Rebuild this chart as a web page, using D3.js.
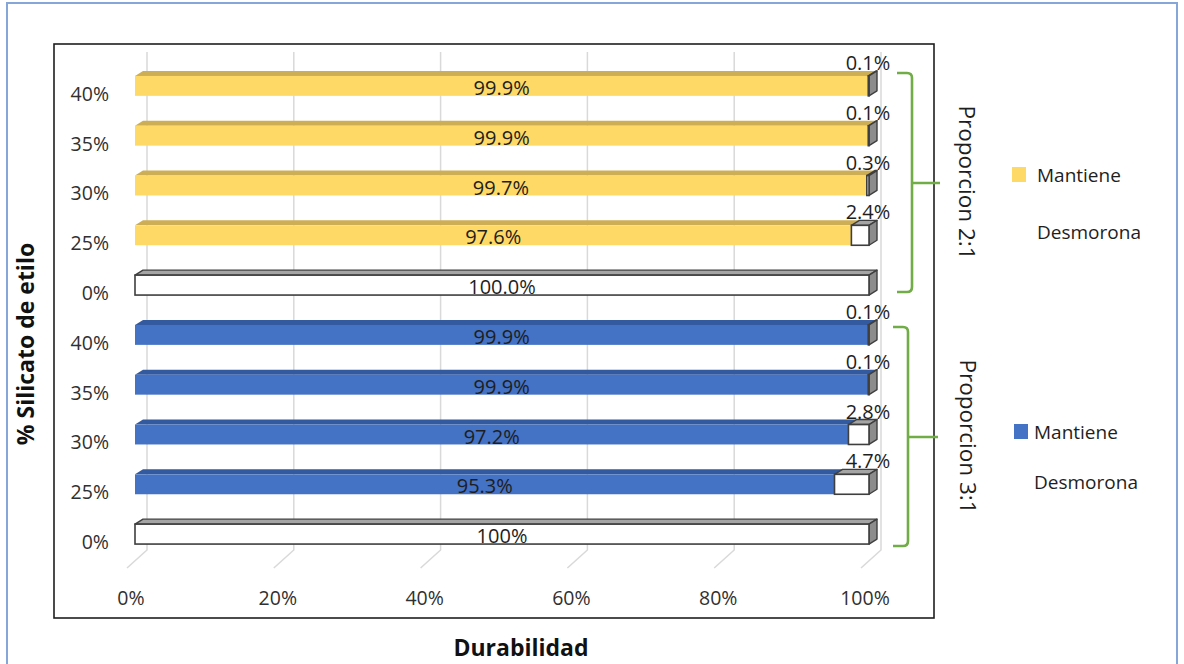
<!DOCTYPE html>
<html>
<head>
<meta charset="utf-8">
<script src="https://cdn.jsdelivr.net/npm/d3@7"></script>
<style>
  html, body { margin: 0; padding: 0; background: #fff; }
  svg { display: block; font-family: "Open Sans", "Liberation Sans", sans-serif; }
</style>
</head>
<body>
<svg id="chart" width="1184" height="664"></svg>
<script>
// Row labels, top to bottom (two groups of five)
const rowLabels = ["40%", "35%", "30%", "25%", "0%", "40%", "35%", "30%", "25%", "0%"];
const groupOf = ["2:1", "2:1", "2:1", "2:1", "2:1", "3:1", "3:1", "3:1", "3:1", "3:1"];

// Proporcion 2:1
const mantiene21 = [99.9, 99.9, 99.7, 97.6, 0];
const desmorona21 = [0.1, 0.1, 0.3, 2.4, 100];
// Proporcion 3:1
const mantiene31 = [99.9, 99.9, 97.2, 95.3, 0];
const desmorona31 = [0.1, 0.1, 2.8, 4.7, 100];

// The all-crumbled rows are labelled with different precision in each group
const fullRowLabels = ["100.0%", "100%"];

const xTicks = [0, 20, 40, 60, 80, 100];

const groups = [
  { name: "Proporcion 2:1", color: "#FFD966", top: "#CDAE55", mantiene: mantiene21, desmorona: desmorona21, full: fullRowLabels[0] },
  { name: "Proporcion 3:1", color: "#4472C4", top: "#33599F", mantiene: mantiene31, desmorona: desmorona31, full: fullRowLabels[1] }
];

const svg = d3.select("#chart");

// outer frame
svg.append("rect").attr("x", 7).attr("y", 3).attr("width", 1170).attr("height", 680)
  .attr("fill", "none").attr("stroke", "#86A6D8").attr("stroke-width", 2);
// inner chart frame
svg.append("rect").attr("x", 54).attr("y", 44).attr("width", 880).attr("height", 574)
  .attr("fill", "none").attr("stroke", "#1e1e1e").attr("stroke-width", 1.6);

const x = d3.scaleLinear().domain([0, 100]).range([135, 869]);
const rowIds = d3.range(rowLabels.length);
const y = d3.scaleBand().domain(rowIds).range([61, 559]).paddingInner(0.6).paddingOuter(0.3);

const DX = 8, DY = 5;          // bar depth offset
const BACK = 12, FLOOR_Y = 550, FLOOR_DX = -20, FLOOR_DY = 18;

// back wall gridlines + floor
const grid = svg.append("g");
xTicks.forEach(v => {
  const bx = x(v) + BACK;
  grid.append("path")
    .attr("d", `M${bx},52 V${FLOOR_Y} L${bx + FLOOR_DX},${FLOOR_Y + FLOOR_DY}`)
    .attr("fill", "none").attr("stroke", "#d9d9d9").attr("stroke-width", 1.5);
});

// x tick labels
svg.append("g").selectAll("text").data(xTicks).join("text")
  .attr("x", d => x(d) - 4).attr("y", 598).attr("dy", "0.35em")
  .attr("text-anchor", "middle").attr("font-size", 19.5).attr("fill", "#303030")
  .text(d => d + "%");

// y tick labels
svg.append("g").selectAll("text").data(rowIds).join("text")
  .attr("x", 109).attr("y", d => y(d) + y.bandwidth() / 2 + 8).attr("dy", "0.35em")
  .attr("text-anchor", "end").attr("font-size", 19.5).attr("fill", "#303030")
  .text(d => rowLabels[d]);

// 3D bar pieces
function box(g, x0, x1, yt, h, front, topFill, stroke, withCap, capFill) {
  if (x1 - x0 <= 0) return;
  g.append("path")
    .attr("d", `M${x0},${yt} L${x0 + DX},${yt - DY} L${x1 + DX},${yt - DY} L${x1},${yt} Z`)
    .attr("fill", topFill).attr("stroke", stroke || "none").attr("stroke-width", 1.4)
    .attr("stroke-linejoin", "round");
  if (withCap) {
    g.append("path")
      .attr("d", `M${x1},${yt} L${x1 + DX},${yt - DY} L${x1 + DX},${yt + h - DY} L${x1},${yt + h} Z`)
      .attr("fill", capFill).attr("stroke", stroke || "none").attr("stroke-width", 1.4)
      .attr("stroke-linejoin", "round");
  }
  g.append("rect").attr("x", x0).attr("y", yt).attr("width", Math.max(x1 - x0, 0.01)).attr("height", h)
    .attr("fill", front).attr("stroke", stroke || "none").attr("stroke-width", 1.6);
}

const bars = svg.append("g");
const labels = svg.append("g").attr("font-size", 20).attr("fill", "#1e1e1e").attr("text-anchor", "middle");

rowIds.forEach(r => {
  const grp = groups[groupOf[r] === "2:1" ? 0 : 1];
  const k = r % 5;
  const m = grp.mantiene[k], dm = grp.desmorona[k];
  const yt = y(r), h = y.bandwidth();
  const g = bars.append("g");
  // Mantiene segment
  if (m > 0) box(g, x(0), x(m), yt, h, grp.color, grp.top, null, false);
  // Desmorona segment
  box(g, x(m), x(m + dm), yt, h, "#ffffff", "#a5a5a5", "#3f3f3f", true, "#8c8c8c");

  if (m > 0) {
    labels.append("text").attr("x", x(m / 2)).attr("y", yt + h / 2 + 2).attr("dy", "0.35em")
      .text(d3.format(".1f")(m) + "%");
    labels.append("text").attr("x", x(m + dm) - 1).attr("y", yt - 13).attr("dy", "0.35em")
      .text(d3.format(".1f")(dm) + "%");
  } else {
    labels.append("text").attr("x", x(m + dm / 2)).attr("y", yt + h / 2 + 2).attr("dy", "0.35em")
      .text(grp.full);
  }
});

// group braces
const braces = [
  { x: 912, top: 73, bottom: 292, mid: 183, left: 897, right: 940, label: "Proporcion 2:1", tx: 967 },
  { x: 908, top: 327, bottom: 546, mid: 437, left: 893, right: 938, label: "Proporcion 3:1", tx: 968 }
];
braces.forEach(b => {
  svg.append("path")
    .attr("d", `M${b.left},${b.top} H${b.x - 5} Q${b.x},${b.top} ${b.x},${b.top + 5} V${b.bottom - 5} Q${b.x},${b.bottom} ${b.x - 5},${b.bottom} H${b.left}` +
      ` M${b.x},${b.mid} H${b.right}`)
    .attr("fill", "none").attr("stroke", "#70AD47").attr("stroke-width", 2.6);
  svg.append("text")
    .attr("transform", `translate(${b.tx},${(b.top + b.bottom) / 2}) rotate(90)`)
    .attr("text-anchor", "middle").attr("dy", "0.35em")
    .attr("font-size", 22.5).attr("fill", "#1e1e1e")
    .text(b.label);
});

// legends
const legends = [
  { color: groups[0].color, sx: 1012, tx: 1037, y1: 175, y2: 232 },
  { color: groups[1].color, sx: 1014, tx: 1034, y1: 432, y2: 482 }
];
legends.forEach(l => {
  svg.append("rect").attr("x", l.sx).attr("y", l.y1 - 8).attr("width", 14).attr("height", 15).attr("fill", l.color);
  svg.append("text").attr("x", l.tx).attr("y", l.y1).attr("dy", "0.35em")
    .attr("font-size", 19).attr("fill", "#1e1e1e").text("Mantiene");
  svg.append("rect").attr("x", l.sx).attr("y", l.y2 - 8).attr("width", 14).attr("height", 15).attr("fill", "#ffffff");
  svg.append("text").attr("x", l.tx).attr("y", l.y2).attr("dy", "0.35em")
    .attr("font-size", 19).attr("fill", "#1e1e1e").text("Desmorona");
});

// axis titles
svg.append("text").attr("x", 521).attr("y", 648).attr("dy", "0.35em")
  .attr("text-anchor", "middle").attr("font-size", 23).attr("font-weight", 700).attr("fill", "#111")
  .text("Durabilidad");
svg.append("text").attr("transform", "translate(26,344) rotate(-90)").attr("dy", "0.35em")
  .attr("text-anchor", "middle").attr("font-size", 23).attr("font-weight", 700).attr("fill", "#111")
  .text("% Silicato de etilo");
</script>
</body>
</html>
